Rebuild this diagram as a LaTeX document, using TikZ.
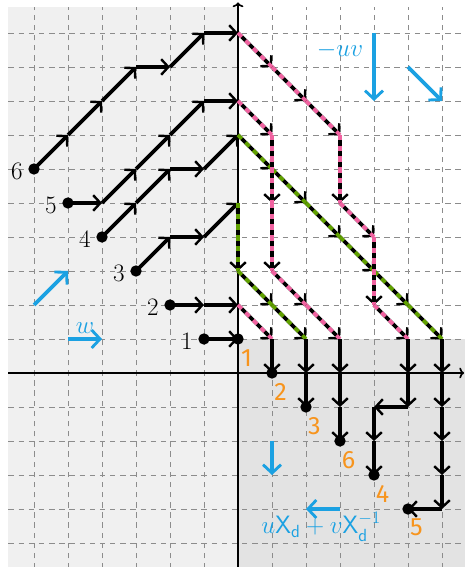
\RequirePackage{fix-cm}
\documentclass[tikz,border=0pt]{standalone}
\usepackage{fontspec}
\usepackage{amsmath}
\usetikzlibrary{arrows.meta, calc}
\newfontfamily\labelsans{Fira Sans}
\definecolor{skyblue}{RGB}{27,161,226}
\definecolor{endorange}{RGB}{247,148,29}
\definecolor{pathpink}{RGB}{240,98,160}
\definecolor{pathgreen}{RGB}{96,160,0}
\definecolor{leftgray}{RGB}{240,240,240}
\definecolor{lowgray}{RGB}{227,227,227}
\definecolor{gridgray}{RGB}{140,140,140}
\newcommand\bigtext{\fontsize{21}{25}\selectfont}
\tikzset{
  seg/.style      = {-{Straight Barb[length=6pt,width=13pt,line width=2pt]}, line width=3.2pt, black},
  pinkseg/.style  = {seg, postaction={draw=pathpink, arrows=-, dash pattern=on 4.5pt off 4.5pt}},
  greenseg/.style = {seg, postaction={draw=pathgreen, arrows=-, dash pattern=on 4.5pt off 4.5pt}},
  legarrow/.style = {-{Straight Barb[length=7pt,width=15pt,line width=2.4pt]}, line width=3pt, draw=skyblue},
  leglab/.style   = {text=skyblue, inner sep=1pt},
  gridline/.style = {draw=gridgray, line width=0.6pt, dash pattern=on 4.5pt off 4pt},
  axis/.style     = {-{To[length=4pt,width=9pt]}, line width=1.4pt, black},
  dot/.style      = {circle, fill=black, inner sep=0pt, minimum size=9.5pt},
  startlab/.style = {inner sep=0pt},
  endlab/.style   = {inner sep=0pt, text=endorange, font=\labelsans\bigtext},
}
% one lattice walk: style, start x, start y, list of x/y
\newcommand\walk[4][seg]{%
  \foreach \x/\y [remember=\x as \px (initially #2), remember=\y as \py (initially #3)] in {#4}
    \draw[#1] (\px,\py) -- (\x,\y);}

\begin{document}
\begin{tikzpicture}[font=\bigtext]
  \useasboundingbox (-7,-5.706) rectangle (6.676,10.97);
  \fill[white] (-7,-5.706) rectangle (6.676,10.97);
  \fill[leftgray] (-6.75,-5.75) rectangle (0,10.75);
  \fill[lowgray] (0,-5.75) rectangle (6.75,1);
  \draw[gridline] (-6.75,-5.75) grid (6.75,10.75);
  \draw[axis] (-6.75,0) -- (6.65,0);
  \draw[axis] (0,-5.75) -- (0,10.9);

  % legend
  \draw[legarrow] (4,10) -- (4,8);
  \node[leglab] (uvlab) at (3.0,9.5) {$-uv$};
  \draw[legarrow] (5,9) -- (6,8);
  \draw[legarrow] (-6,2) -- (-5,3);
  \draw[legarrow] (-5,1) -- node[leglab, above=2pt] (wlab) {$w$} (-4,1);
  \draw[legarrow] (1,-2) -- (1,-3);
  \draw[legarrow] (3,-4) -- (2,-4);
  \node[leglab] (xlab) at (2.45,-4.53) {$u\mathsf{X}_{\mathsf{d}}+v\mathsf{X}_{\mathsf{d}}^{-1}$};

  % walk 1
  \walk{-1}{1}{0/1}
  % walk 2
  \walk{-2}{2}{-1/2, 0/2}
  \walk[pinkseg]{0}{2}{1/1}
  \walk{1}{1}{1/0}
  % walk 3
  \walk{-3}{3}{-2/4, -1/4, 0/5}
  \walk[greenseg]{0}{5}{0/3, 1/2, 2/1}
  \walk{2}{1}{2/0, 2/-1}
  % walk 4
  \walk{-4}{4}{-3/5, -2/6, -1/6, 0/7}
  \walk[greenseg]{0}{7}{1/6, 2/5, 3/4, 4/3, 5/2, 6/1}
  \walk{6}{1}{6/0, 6/-1, 6/-2, 6/-3, 6/-4, 5/-4}
  % walk 5
  \walk{-5}{5}{-4/5, -3/6, -2/7, -1/8, 0/8}
  \walk[pinkseg]{0}{8}{1/7, 1/5, 1/3, 2/2, 3/1}
  \walk{3}{1}{3/0, 3/-1, 3/-2}
  % walk 6
  \walk{-6}{6}{-5/7, -4/8, -3/9, -2/9, -1/10, 0/10}
  \walk[pinkseg]{0}{10}{1/9, 2/8, 3/7, 3/5, 4/4, 4/2, 5/1}
  \walk{5}{1}{5/0, 5/-1, 4/-1, 4/-2, 4/-3}

  % start and end points
  \foreach \k in {1,...,6} {
    \node[dot] (s\k) at (-\k,\k) {};
    \node[startlab] (ls\k) at ($(s\k)+(-0.5,-0.07)$) {\k};
  }
  \foreach \i/\lab in {0/1,1/2,2/3,3/6,4/4,5/5} {
    \node[dot] (e\lab) at (\i,{1-\i}) {};
    \node[endlab] (le\lab) at ($(e\lab)+(0.25,-0.55)$) {\lab};
  }
\end{tikzpicture}
\end{document}
